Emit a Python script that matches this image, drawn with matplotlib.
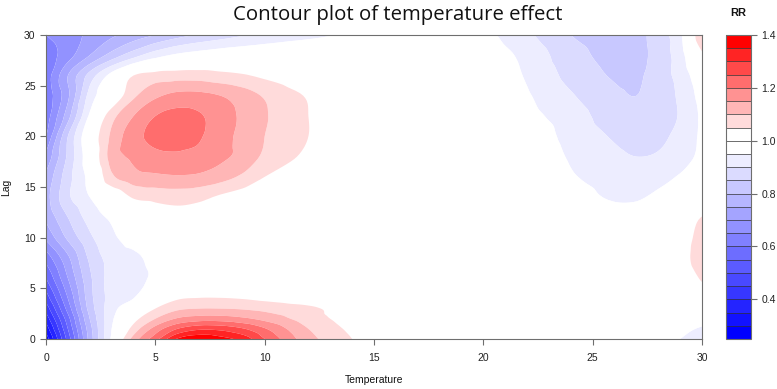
import numpy as np
import matplotlib
matplotlib.use("Agg")
import matplotlib.pyplot as plt
import matplotlib.tri as mtri

plt.rcParams['font.family'] = ['Liberation Sans', 'DejaVu Sans']

# ---- data ----
temperature = [0, 1, 2, 3, 4, 5, 6, 7, 8, 9, 10, 12, 14, 16, 18, 20, 22, 24, 26, 27, 28, 29, 30]
lag = [0, 1, 2, 3, 4, 6, 8, 10, 12, 14, 16, 18, 20, 22, 24, 26, 28, 30]

rr_lag0  = [0.27,0.52,0.77,0.96,1.12,1.23,1.355,1.39,1.37,1.33,1.25,1.12,1.05,1.01,1.0,1.0,1.0,0.99,0.98,0.975,0.965,0.95,0.93]
rr_lag1  = [0.32,0.55,0.78,0.95,1.07,1.17,1.25,1.29,1.285,1.255,1.205,1.1,1.04,1.01,1.0,1.0,1.0,0.99,0.985,0.98,0.97,0.96,0.945]
rr_lag2  = [0.37,0.58,0.80,0.94,1.03,1.10,1.155,1.175,1.175,1.16,1.135,1.075,1.03,1.005,1.0,1.0,1.0,0.995,0.99,0.985,0.98,0.975,0.97]
rr_lag3  = [0.42,0.62,0.82,0.93,0.99,1.05,1.09,1.10,1.10,1.095,1.085,1.06,1.025,1.0,1.0,1.0,1.0,1.0,0.995,0.99,0.99,0.99,1.0]
rr_lag4  = [0.47,0.65,0.83,0.92,0.95,1.01,1.045,1.052,1.052,1.048,1.04,1.025,1.01,1.0,1.0,1.0,1.0,1.0,1.0,1.0,0.995,1.0,1.02]
rr_lag6  = [0.55,0.70,0.84,0.92,0.935,0.96,0.99,1.0,1.005,1.005,1.005,1.0,1.0,1.0,1.0,1.0,1.0,1.0,1.0,1.0,1.0,1.02,1.055]
rr_lag8  = [0.62,0.74,0.86,0.92,0.94,0.965,0.99,1.0,1.0,1.0,1.0,1.0,1.0,1.0,1.0,1.0,1.0,1.0,1.0,1.0,1.0,1.03,1.075]
rr_lag10 = [0.71,0.81,0.89,0.94,0.97,0.99,1.0,1.005,1.005,1.005,1.0,1.0,1.0,1.0,1.0,1.0,1.0,1.0,1.0,1.0,1.0,1.025,1.07]
rr_lag12 = [0.76,0.85,0.92,0.96,0.99,1.02,1.03,1.028,1.02,1.012,1.005,1.0,1.0,1.0,1.0,1.0,1.0,0.985,0.97,0.97,0.985,1.02,1.052]
rr_lag14 = [0.78,0.89,0.95,1.0,1.055,1.065,1.07,1.062,1.042,1.025,1.012,1.0,1.0,1.0,1.0,1.0,1.0,0.97,0.945,0.945,0.96,0.98,0.99]
rr_lag16 = [0.76,0.88,0.97,1.09,1.13,1.14,1.145,1.14,1.12,1.09,1.05,1.02,1.005,1.0,1.0,1.0,0.99,0.955,0.93,0.925,0.935,0.955,0.98]
rr_lag18 = [0.71,0.86,0.99,1.12,1.16,1.185,1.19,1.185,1.16,1.135,1.09,1.04,1.015,1.0,1.0,1.0,0.985,0.945,0.91,0.90,0.905,0.925,0.965]
rr_lag20 = [0.65,0.85,1.0,1.11,1.18,1.215,1.225,1.205,1.17,1.135,1.10,1.05,1.02,1.0,1.0,1.0,0.98,0.935,0.895,0.885,0.89,0.915,0.96]
rr_lag22 = [0.62,0.78,0.96,1.08,1.15,1.20,1.215,1.205,1.175,1.14,1.105,1.05,1.015,1.0,1.0,0.995,0.965,0.925,0.875,0.87,0.875,0.905,0.96]
rr_lag24 = [0.61,0.74,0.92,1.0,1.09,1.14,1.165,1.165,1.15,1.125,1.095,1.045,1.01,1.0,1.0,0.99,0.955,0.905,0.86,0.85,0.87,0.91,0.97]
rr_lag26 = [0.62,0.75,0.87,0.97,1.05,1.07,1.075,1.075,1.065,1.055,1.04,1.01,0.99,0.99,0.995,0.985,0.945,0.885,0.845,0.842,0.875,0.92,0.99]
rr_lag28 = [0.62,0.68,0.75,0.82,0.88,0.93,0.96,0.975,0.985,0.99,0.995,1.0,1.0,1.0,1.0,0.98,0.935,0.87,0.835,0.835,0.87,0.93,1.04]
rr_lag30 = [0.65,0.68,0.71,0.74,0.77,0.80,0.83,0.855,0.875,0.895,0.91,0.935,0.96,0.985,0.99,0.965,0.91,0.85,0.83,0.835,0.875,0.94,1.1]

rr_rows = [rr_lag0, rr_lag1, rr_lag2, rr_lag3, rr_lag4, rr_lag6, rr_lag8, rr_lag10,
           rr_lag12, rr_lag14, rr_lag16, rr_lag18, rr_lag20, rr_lag22, rr_lag24,
           rr_lag26, rr_lag28, rr_lag30]

level_min, level_max, level_step = 0.25, 1.40, 0.05
cbar_ticks = [0.4, 0.6, 0.8, 1.0, 1.2, 1.4]
x_ticks = [0, 5, 10, 15, 20, 25, 30]
y_ticks = [0, 5, 10, 15, 20, 25, 30]

# ---- build triangulated grid ----
T = np.array(temperature, float)
Lg = np.array(lag, float)
Z = np.array(rr_rows, float)
XX, YY = np.meshgrid(T, Lg)
nx, ny = len(T), len(Lg)
tris = []
for j in range(ny - 1):
    for i in range(nx - 1):
        a = j * nx + i
        b = a + 1
        c = a + nx
        d = c + 1
        tris.append([a, b, d])
        tris.append([a, d, c])
tri = mtri.Triangulation(XX.ravel(), YY.ravel(), np.array(tris))
interp = mtri.CubicTriInterpolator(tri, Z.ravel(), kind='geom')
refiner = mtri.UniformTriRefiner(tri)
tri_r, z_r = refiner.refine_field(Z.ravel(), triinterpolator=interp, subdiv=3)
z_r = np.clip(z_r, level_min + 1e-6, level_max - 1e-6)

levels = np.round(np.arange(level_min, level_max + 1e-9, level_step), 2)
n_low = int(round((1.0 - level_min) / level_step))
n_high = len(levels) - 1 - n_low
blues = [(i / (n_low - 1), i / (n_low - 1), 1.0) for i in range(n_low)]
reds = [(1.0, 1 - i / (n_high - 1), 1 - i / (n_high - 1)) for i in range(n_high)]
colors = blues + reds

fig = plt.figure(figsize=(7.77, 3.89), dpi=100)
ax = fig.add_axes([46 / 777, 50 / 389, 656 / 777, 304 / 389])
cs = ax.tricontourf(tri_r, z_r, levels=levels, colors=colors, antialiased=True)
ax.set_xlim(0, 30)
ax.set_ylim(0, 30)
ax.set_xticks(x_ticks)
ax.set_yticks(y_ticks)
edge = '#6e6e6e'
for s in ax.spines.values():
    s.set_color(edge)
    s.set_linewidth(0.8)
ax.tick_params(axis='both', colors=edge, labelcolor='#222222', labelsize=7.5, length=4, width=0.8)
ax.tick_params(axis='x', pad=6)
ax.set_xlabel('Temperature', fontsize=7.5, color='#111111', labelpad=9)
ax.set_ylabel('Lag', fontsize=7.5, color='#111111', labelpad=9)

fig.text(0.512, 0.962, 'Contour plot of temperature effect', ha='center', va='center',
         fontsize=14.7, family='Open Sans', weight='medium', color='#111111')

cax = fig.add_axes([726 / 777, 50 / 389, 25 / 777, 304 / 389])
cb = fig.colorbar(cs, cax=cax, ticks=cbar_ticks, drawedges=True)
cb.dividers.set_color('#333333')
cb.dividers.set_linewidth(0.5)
cb.outline.set_edgecolor(edge)
cb.outline.set_linewidth(0.8)
cax.tick_params(colors=edge, labelcolor='#222222', labelsize=7.5, length=4, width=0.8)
cax.set_yticklabels([f'{t:.1f}' for t in cbar_ticks])
fig.text(738 / 777, 1 - 13 / 389, 'RR', ha='center', va='center', fontsize=8,
         weight='bold', color='#111111')

fig.savefig('out.png', dpi=100)
